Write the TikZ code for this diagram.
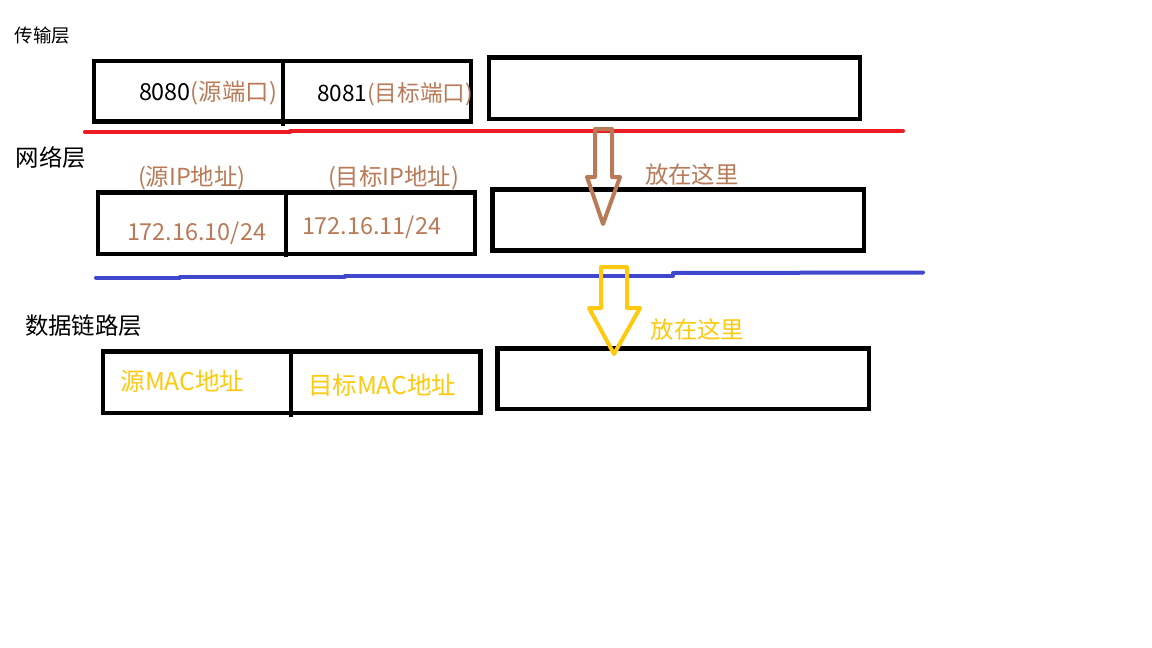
\documentclass[tikz,border=0pt]{standalone}
\usepackage{fontspec}
\setmainfont{Noto Sans CJK SC}
\definecolor{pbrown}{HTML}{B97A57}
\definecolor{pgold}{HTML}{FFC90E}
\definecolor{pred}{HTML}{ED1C24}
\definecolor{pblue}{HTML}{3F48CC}
\begin{document}
\begin{tikzpicture}[x=1pt,y=-1pt,
  frame/.style={draw=black,line width=4.5pt,line join=miter},
  sepline/.style={line width=4pt,line cap=round},
  blockarrow/.style={line width=4pt,line join=round,line cap=round},
  lbl/.style={anchor=base west,inner sep=0pt,outer sep=0pt},
  big/.style={font=\fontsize{23.4}{27}\selectfont},
  port/.style={font=\fontsize{22.6}{26}\selectfont},
  mac/.style={font=\fontsize{24.5}{28}\selectfont},
  small/.style={font=\fontsize{18.5}{22}\selectfont}]
\useasboundingbox (0,0) rectangle (1152,648);
\fill[white] (0,0) rectangle (1152,648);

% ---- transport layer ----
\node[lbl,small] (tl) at (15,42) {传输层};
\draw[frame] (94,61) rectangle (471,121.5);
\draw[frame] (283,61) -- (283,126);
\draw[frame] (489,57.5) rectangle (860,119);
\node[lbl,big] (p1) at (139,100.7) {8080\textcolor{pbrown}{(源端口)}};
\node[lbl,port] (p2) at (317,101.7) {8081\textcolor{pbrown}{(目标端口)}};

\draw[sepline,pred] (85,132.3) -- (290,132.3);
\draw[sepline,pred] (290,131.3) -- (698,131.3);
\draw[sepline,pred] (698,130.5) -- (903,130.5);

% ---- network layer ----
\node[lbl,big] (nl) at (16,166) {网络层};
\node[lbl,big,text=pbrown] (s1) at (138,185) {(源IP地址)};
\node[lbl,big,text=pbrown] (s2) at (328,185) {(目标IP地址)};
\draw[frame] (98,192.5) rectangle (475,254);
\draw[frame] (286,192.5) -- (286,257);
\draw[frame] (492.5,189.5) rectangle (864,250.5);
\node[lbl,big,text=pbrown] (ip1) at (127,240) {172.16.10/24};
\node[lbl,big,text=pbrown] (ip2) at (302,234.3) {172.16.11/24};

\draw[sepline,pblue] (96,277.5) -- (180,277.5);
\draw[sepline,pblue] (180,276.5) -- (345,276.5);
\draw[sepline,pblue] (345,275.5) -- (673,275.5);
\draw[sepline,pblue] (673,273) -- (923,272.5);

% brown hollow arrow
\draw[blockarrow,pbrown] (595,129) -- (612,129) -- (612,177) -- (620,177) -- (603,224) -- (587,177) -- (595,177) -- cycle;
\node[lbl,big,text=pbrown] (h1) at (645,183) {放在这里};

% ---- data link layer ----
\node[lbl,big] (dl) at (25,334.5) {数据链路层};
\draw[frame] (103,351.5) rectangle (480.5,413);
\draw[frame] (291,351.5) -- (291,417);
\draw[frame] (497.5,348.7) rectangle (869,409);
\node[lbl,mac,text=pgold] (m1) at (120.5,390.7) {源MAC地址};
\node[lbl,mac,text=pgold] (m2) at (308,394) {目标MAC地址};

% gold hollow arrow
\draw[blockarrow,pgold] (601,267) -- (627,267) -- (627,308) -- (640,308) -- (614,354) -- (589,308) -- (601,308) -- cycle;
\node[lbl,big,text=pgold] (h2) at (650.7,338) {放在这里};
\end{tikzpicture}
\end{document}
